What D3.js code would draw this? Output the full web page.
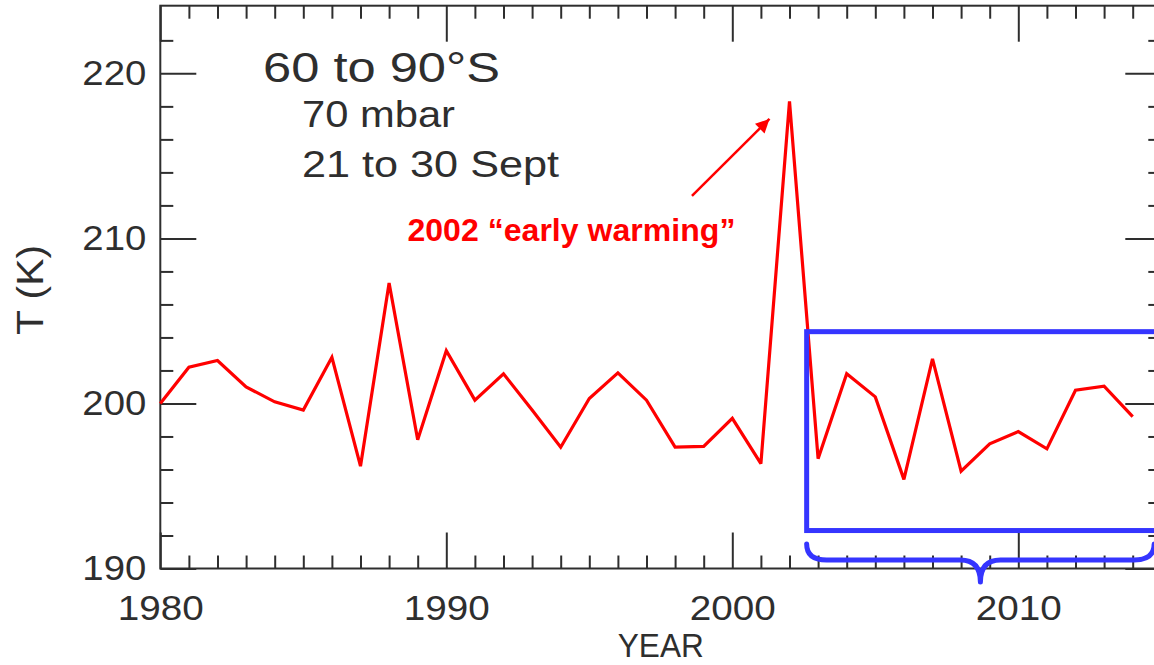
<!DOCTYPE html>
<html>
<head>
<meta charset="utf-8">
<script src="https://cdn.jsdelivr.net/npm/d3@7"></script>
<style>
  html, body { margin: 0; padding: 0; background: #fff; }
  svg { display: block; }
  text { font-family: "Liberation Sans", Arial, sans-serif; }
</style>
</head>
<body>
<svg id="chart" width="1154" height="665"></svg>
<script>
// Polar-cap temperature, 60-90°S, 70 mbar, late-September mean
const years = [1980, 1981, 1982, 1983, 1984, 1985, 1986, 1987, 1988, 1989,
               1990, 1991, 1992, 1993, 1994, 1995, 1996, 1997, 1998, 1999,
               2000, 2001, 2002, 2003, 2004, 2005, 2006, 2007, 2008, 2009,
               2010, 2011, 2012, 2013, 2014];
const temps = [200.0, 202.2, 202.6, 201.0, 200.1, 199.6, 202.8, 196.2, 207.3, 197.8,
               203.2, 200.2, 201.8, 199.6, 197.35, 200.3, 201.85, 200.2, 197.35, 197.4,
               199.1, 196.35, 218.3, 196.65, 201.8, 200.4, 195.4, 202.7, 195.9, 197.55,
               198.3, 197.25, 200.8, 201.05, 199.2];

const xMajorTicks = [1980, 1990, 2000, 2010];
const yMajorTicks = [190, 200, 210, 220];
const titleLines = ["60 to 90°S", "70 mbar", "21 to 30 Sept"];
const noteLabel = "2002 “early warming”";

// highlighted recent period (box) and its brace
const boxYears = [2002.6, 2015.3];
const boxTemps = [192.3, 204.35];
const braceYears = [2002.6, 2014.75];

const svg = d3.select("#chart");
const plotLeft = 160.3, plotRight = 1161.3, plotTop = 5.7, plotBottom = 568.5;

const x = d3.scaleLinear().domain([1980, 2015]).range([plotLeft, plotRight]);
const y = d3.scaleLinear().domain([190, 224.1]).range([plotBottom, plotTop]);

const ink = "#2e2e2e";
const minorLen = 13, majorLen = 36;
const stretch = "spacingAndGlyphs";

const xMinor = d3.range(1981, 2015).filter(v => v % 10 !== 0);
const yMinor = d3.range(192, 224, 2).filter(v => v % 10 !== 0);

function styleAxis(g) {
  g.select(".domain").remove();
  g.selectAll(".tick line").attr("stroke", ink).attr("stroke-width", 2);
  g.selectAll(".tick text").attr("fill", ink).attr("font-size", 35)
    .attr("font-family", "Liberation Sans, Arial, sans-serif");
}

// bottom
svg.append("g").attr("transform", `translate(0,${plotBottom})`)
  .call(d3.axisBottom(x).tickValues(xMinor).tickSize(-minorLen).tickFormat(""))
  .call(styleAxis);
const gxb = svg.append("g").attr("transform", `translate(0,${plotBottom})`)
  .call(d3.axisBottom(x).tickValues(xMajorTicks).tickSize(-majorLen).tickPadding(27).tickFormat(d3.format("d")))
  .call(styleAxis);
gxb.selectAll(".tick text").attr("textLength", 86).attr("lengthAdjust", stretch);

// top
svg.append("g").attr("transform", `translate(0,${plotTop})`)
  .call(d3.axisTop(x).tickValues(xMinor).tickSize(-minorLen).tickFormat(""))
  .call(styleAxis);
svg.append("g").attr("transform", `translate(0,${plotTop})`)
  .call(d3.axisTop(x).tickValues(xMajorTicks).tickSize(-majorLen).tickFormat(""))
  .call(styleAxis);

// left
svg.append("g").attr("transform", `translate(${plotLeft},0)`)
  .call(d3.axisLeft(y).tickValues(yMinor).tickSize(-minorLen).tickFormat(""))
  .call(styleAxis);
const gyl = svg.append("g").attr("transform", `translate(${plotLeft},0)`)
  .call(d3.axisLeft(y).tickValues(yMajorTicks).tickSize(-majorLen).tickPadding(14).tickFormat(d3.format("d")))
  .call(styleAxis);
gyl.selectAll(".tick text").attr("textLength", 64).attr("lengthAdjust", stretch);

// right
svg.append("g").attr("transform", `translate(${plotRight},0)`)
  .call(d3.axisRight(y).tickValues(yMinor).tickSize(-minorLen).tickFormat(""))
  .call(styleAxis);
svg.append("g").attr("transform", `translate(${plotRight},0)`)
  .call(d3.axisRight(y).tickValues(yMajorTicks).tickSize(-majorLen).tickFormat(""))
  .call(styleAxis);

// frame
svg.append("rect")
  .attr("x", plotLeft).attr("y", plotTop)
  .attr("width", plotRight - plotLeft).attr("height", plotBottom - plotTop)
  .attr("fill", "none").attr("stroke", ink).attr("stroke-width", 2);

// axis titles
svg.append("text")
  .attr("x", (plotLeft + plotRight) / 2).attr("y", 657)
  .attr("text-anchor", "middle").attr("font-size", 34).attr("fill", ink)
  .attr("textLength", 86).attr("lengthAdjust", stretch)
  .text("YEAR");
svg.append("text")
  .attr("transform", "translate(43,290) rotate(-90)")
  .attr("text-anchor", "middle").attr("font-size", 36).attr("fill", ink)
  .attr("textLength", 90).attr("lengthAdjust", stretch)
  .text("T (K)");

// region / level / period captions
svg.append("text")
  .attr("x", 263).attr("y", 82)
  .attr("font-size", 43).attr("fill", ink)
  .attr("textLength", 237).attr("lengthAdjust", stretch)
  .text(titleLines[0]);
svg.append("text")
  .attr("x", 302).attr("y", 127)
  .attr("font-size", 36).attr("fill", ink)
  .attr("textLength", 153).attr("lengthAdjust", stretch)
  .text(titleLines[1]);
svg.append("text")
  .attr("x", 302).attr("y", 177)
  .attr("font-size", 36).attr("fill", ink)
  .attr("textLength", 257).attr("lengthAdjust", stretch)
  .text(titleLines[2]);

// temperature series
const line = d3.line().x((d, i) => x(years[i])).y(d => y(d));
svg.append("path")
  .datum(temps)
  .attr("d", line)
  .attr("fill", "none")
  .attr("stroke", "#ff0000")
  .attr("stroke-width", 3.2)
  .attr("stroke-linejoin", "miter")
  .attr("stroke-miterlimit", 3);

// highlight box
const blue = "#3535ff";
svg.append("rect")
  .attr("x", x(boxYears[0])).attr("y", y(boxTemps[1]))
  .attr("width", x(boxYears[1]) - x(boxYears[0]))
  .attr("height", y(boxTemps[0]) - y(boxTemps[1]))
  .attr("fill", "none").attr("stroke", blue).attr("stroke-width", 5);

// curly brace under the box
const bx0 = x(braceYears[0]), bx1 = x(braceYears[1]);
const bmid = (bx0 + bx1) / 2;
const bTop = 544, bLine = 560, bTip = 582, r = 20;
const brace = d3.path();
brace.moveTo(bx0, bTop);
brace.quadraticCurveTo(bx0, bLine, bx0 + r, bLine);
brace.lineTo(bmid - r, bLine);
brace.quadraticCurveTo(bmid, bLine, bmid, bTip);
brace.quadraticCurveTo(bmid, bLine, bmid + r, bLine);
brace.lineTo(bx1 - r, bLine);
brace.quadraticCurveTo(bx1, bLine, bx1, bTop);
svg.append("path")
  .attr("d", brace.toString())
  .attr("fill", "none").attr("stroke", blue).attr("stroke-width", 5)
  .attr("stroke-linecap", "round").attr("stroke-linejoin", "round");

// annotation for the 2002 event
svg.append("defs").append("marker")
  .attr("id", "head").attr("viewBox", "0 0 10 10")
  .attr("refX", 10).attr("refY", 5)
  .attr("markerWidth", 6).attr("markerHeight", 5.5)
  .attr("markerUnits", "strokeWidth")
  .attr("orient", "auto")
  .append("path").attr("d", "M0,0 L10,5 L0,10 Z").attr("fill", "#ff0000");

svg.append("line")
  .attr("x1", x(1998.59)).attr("y1", y(212.58))
  .attr("x2", x(2001.3)).attr("y2", y(217.24))
  .attr("stroke", "#ff0000").attr("stroke-width", 2.5)
  .attr("marker-end", "url(#head)");

svg.append("text")
  .attr("x", x(1988.64)).attr("y", y(209.85))
  .attr("font-size", 32).attr("font-weight", "bold").attr("fill", "#ff0000")
  .attr("textLength", 328).attr("lengthAdjust", "spacing")
  .text(noteLabel);
</script>
</body>
</html>
